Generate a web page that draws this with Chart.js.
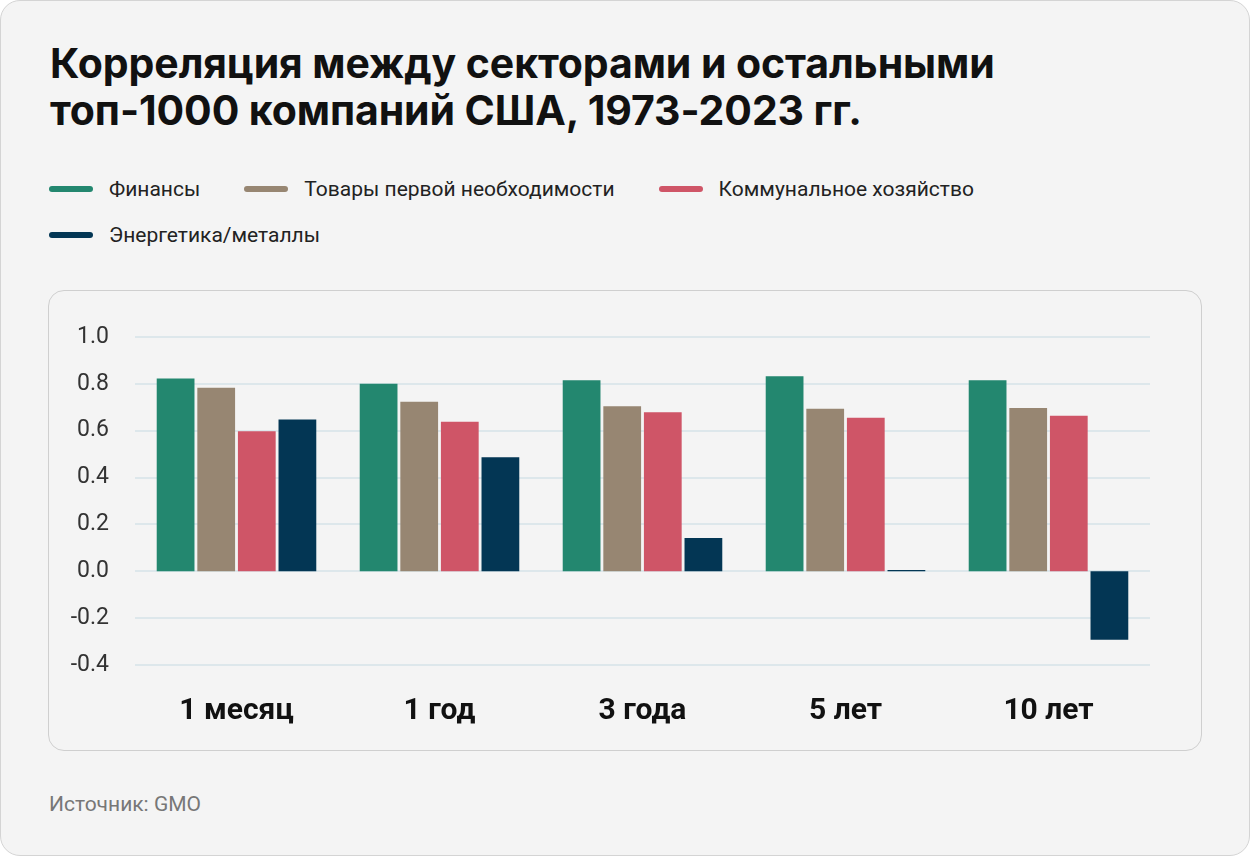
<!DOCTYPE html>
<html>
<head>
<meta charset="utf-8">
<script src="https://cdn.jsdelivr.net/npm/chart.js@4"></script>
<style>
  html, body { margin: 0; padding: 0; background: #fff; }
  .page {
    position: relative; width: 1248px; height: 854px;
    background: #f4f4f4; border: 1px solid #d4d4d4; border-radius: 20px;
    font-family: Inter, "Noto Sans", sans-serif; overflow: hidden;
  }
  h1 {
    position: absolute; left: 49px; top: 39px; margin: 0;
    font-size: 41px; line-height: 47px; font-weight: 700; color: #111;
    letter-spacing: -0.1px;
  }
  .legend { position: absolute; left: 48px; top: 172px; width: 1000px; }
  .legend .item {
    display: inline-flex; align-items: center; height: 32px;
    margin: 0 44px 14px 0; font-size: 21px; color: #222;
    font-family: Roboto, "Noto Sans", sans-serif;
  }
  .legend .sw { width: 44px; height: 6px; border-radius: 3px; margin-right: 16px; }
  .card {
    position: absolute; left: 47px; top: 289px; width: 1152px; height: 459px;
    border: 1px solid #cfcfcf; border-radius: 16px;
  }
  .source {
    position: absolute; left: 48px; top: 791px; font-size: 21px; color: #777;
    font-family: Roboto, "Noto Sans", sans-serif;
  }
</style>
</head>
<body>
<div class="page">
  <h1>Корреляция между секторами и остальными<br>топ-1000 компаний США, 1973-2023 гг.</h1>
  <div class="legend" id="legend"></div>
  <div class="card"><canvas id="chart" width="1152" height="459"></canvas></div>
  <div class="source">Источник: GMO</div>
</div>
<script>
const categories = ['1 месяц', '1 год', '3 года', '5 лет', '10 лет'];
const seriesNames = ['Финансы', 'Товары первой необходимости', 'Коммунальное хозяйство', 'Энергетика/металлы'];
const finance = [0.823, 0.80, 0.815, 0.833, 0.815];
const staples = [0.783, 0.724, 0.704, 0.694, 0.697];
const utilities = [0.598, 0.638, 0.679, 0.655, 0.664];
const energy = [0.648, 0.487, 0.142, 0.005, -0.292];
const colors = ['#23876f', '#978672', '#cf5567', '#033654'];

const values = [finance, staples, utilities, energy];

const legend = document.getElementById('legend');
seriesNames.forEach((name, i) => {
  const item = document.createElement('span');
  item.className = 'item';
  item.innerHTML = '<span class="sw" style="background:' + colors[i] + '"></span>' + name;
  legend.appendChild(item);
});

const ctx = document.getElementById('chart').getContext('2d');
new Chart(ctx, {
  type: 'bar',
  data: {
    labels: categories,
    datasets: seriesNames.map((name, i) => ({
      label: name,
      data: values[i],
      backgroundColor: colors[i],
      borderWidth: 0,
      categoryPercentage: 0.8,
      barPercentage: 0.93,
    })),
  },
  options: {
    responsive: false,
    animation: false,
    layout: { padding: { left: 22, right: 51, top: 46, bottom: 0 } },
    plugins: { legend: { display: false }, tooltip: { enabled: false } },
    scales: {
      x: {
        afterFit: (scale) => { scale.height = 85; },
        grid: { display: false, drawTicks: false },
        border: { display: false },
        ticks: {
          color: '#111',
          padding: 28,
          font: { family: 'Roboto', size: 30, weight: '700' },
        },
      },
      y: {
        min: -0.4,
        max: 1.0,
        afterFit: (scale) => { scale.width = 64; },
        grid: {
          drawTicks: false,
          lineWidth: 2,
          color: (c) => (c.tick && c.tick.value === 0 ? '#8a93a0' : '#dde7eb'),
        },
        border: { display: false },
        ticks: {
          stepSize: 0.2,
          padding: 26,
          color: '#333',
          font: { family: 'Roboto', size: 23 },
          callback: (v) => (Math.abs(v) < 1e-9 ? 0 : v).toFixed(1),
        },
      },
    },
  },
});
</script>
</body>
</html>
